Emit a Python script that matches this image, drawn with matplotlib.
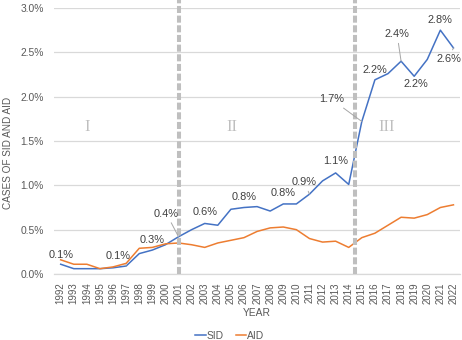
import matplotlib
matplotlib.use("Agg")
import matplotlib.pyplot as plt
from matplotlib.ticker import FuncFormatter, MultipleLocator

plt.rcParams['font.family'] = ['Liberation Sans', 'DejaVu Sans']

years = list(range(1992, 2023))
sid = [0.11, 0.06, 0.06, 0.06, 0.07, 0.09, 0.23, 0.27, 0.33, 0.42,
       0.50, 0.57, 0.55, 0.73, 0.75, 0.76, 0.71, 0.79, 0.79, 0.90,
       1.05, 1.14, 1.01, 1.72, 2.19, 2.26, 2.40, 2.23, 2.42, 2.75, 2.55]
aid = [0.16, 0.11, 0.11, 0.06, 0.08, 0.12, 0.29, 0.30, 0.34, 0.35,
       0.33, 0.30, 0.35, 0.38, 0.41, 0.48, 0.52, 0.53, 0.50, 0.40,
       0.36, 0.37, 0.30, 0.41, 0.46, 0.55, 0.64, 0.63, 0.67, 0.75, 0.78]

# labelled SID points: (year, text, dx px, dy px, leader line)
sid_labels = [
    (1992, "0.1%", 0, 9, False),
    (1997, "0.1%", -8, 10, True),
    (1999, "0.3%", 0, 10, False),
    (2001, "0.4%", -12, 23, True),
    (2003, "0.6%", 0, 11, False),
    (2006, "0.8%", 0, 11, False),
    (2009, "0.8%", 0, 11, False),
    (2011, "0.9%", -5, 12, True),
    (2013, "1.1%", 0, 12, False),
    (2015, "1.7%", -30, 22, True),
    (2016, "2.2%", 0, 10, False),
    (2018, "2.4%", -4, 27, True),
    (2019, "2.2%", 2, -8, False),
    (2021, "2.8%", 0, 10, False),
    (2022, "2.6%", -5, -11, True),
]

phase_names = ["I", "II", "III"]
phase_x = [1994.0, 2005.1, 2016.9]
phase_dividers = [2001, 2014.5]

BLUE = "#4472C4"
ORANGE = "#ED7D31"
GREY_TXT = "#595959"

W, H = 462, 340
fig = plt.figure(figsize=(W / 100, H / 100), dpi=100)
ax = fig.add_axes([53.5 / W, 1 - 274 / H, (460 - 53.5) / W, (274 - 8) / H])

x_idx = [y - years[0] for y in years]
ax.plot(x_idx, sid, color=BLUE, lw=1.1, label="SID", zorder=3)
ax.plot(x_idx, aid, color=ORANGE, lw=1.1, label="AID", zorder=3)

ax.set_xlim(-0.55, 30.5)
ax.set_ylim(0, 3.0)
ax.yaxis.set_major_locator(MultipleLocator(0.5))
ax.yaxis.set_major_formatter(FuncFormatter(lambda v, p: f"{v:.1f}%"))
ax.set_xticks(x_idx)
ax.set_xticklabels([str(y) for y in years], rotation=90)
ax.grid(axis='y', color="#D9D9D9", lw=0.9)
ax.set_axisbelow(True)
for s in ["top", "right", "left"]:
    ax.spines[s].set_visible(False)
ax.spines["bottom"].set_color("#D9D9D9")
ax.spines["bottom"].set_linewidth(0.9)
ax.tick_params(axis='both', length=0, labelcolor=GREY_TXT)
ax.tick_params(axis='x', pad=6, labelsize=7)
ax.tick_params(axis='y', pad=7, labelsize=7.4)

# phase dividers
for d in phase_dividers:
    xd = d - years[0]
    ax.plot([xd, xd], [0, 3.09], color="#BFBFBF", lw=2.9, dashes=(1.75, 0.65),
            solid_capstyle="butt", dash_capstyle="butt", clip_on=False, zorder=4)

for name, px in zip(phase_names, phase_x):
    ax.text(px - years[0], 1.66, name, ha="center", va="center",
            family="Liberation Serif", fontsize=12, color="#BFBFBF")

# data labels
for yr, txt, dx, dy, lead in sid_labels:
    i = yr - years[0]
    props = None
    if lead:
        props = dict(arrowstyle="-", color="#A6A6A6", lw=0.7, shrinkA=1, shrinkB=0)
    ax.annotate(txt, (i, sid[i]), xytext=(dx, dy), textcoords="offset pixels",
                ha="center", va="center", fontsize=7.9, color="#404040",
                arrowprops=props, zorder=5)

fig.text(8 / W, 1 - 153 / H, "CASES OF SID AND AID", rotation=90,
         ha="center", va="center", fontsize=7.2, color=GREY_TXT)
fig.text(257 / W, 1 - 313 / H, "YEAR", ha="center", va="center",
         fontsize=7.4, color=GREY_TXT)

fig.legend(loc="center", bbox_to_anchor=(230 / W, 1 - 336 / H), ncol=2,
           frameon=False, fontsize=7.4, handlelength=1.0, handletextpad=0.1,
           columnspacing=1.2, labelcolor=GREY_TXT)

fig.savefig("out.png", dpi=100)
